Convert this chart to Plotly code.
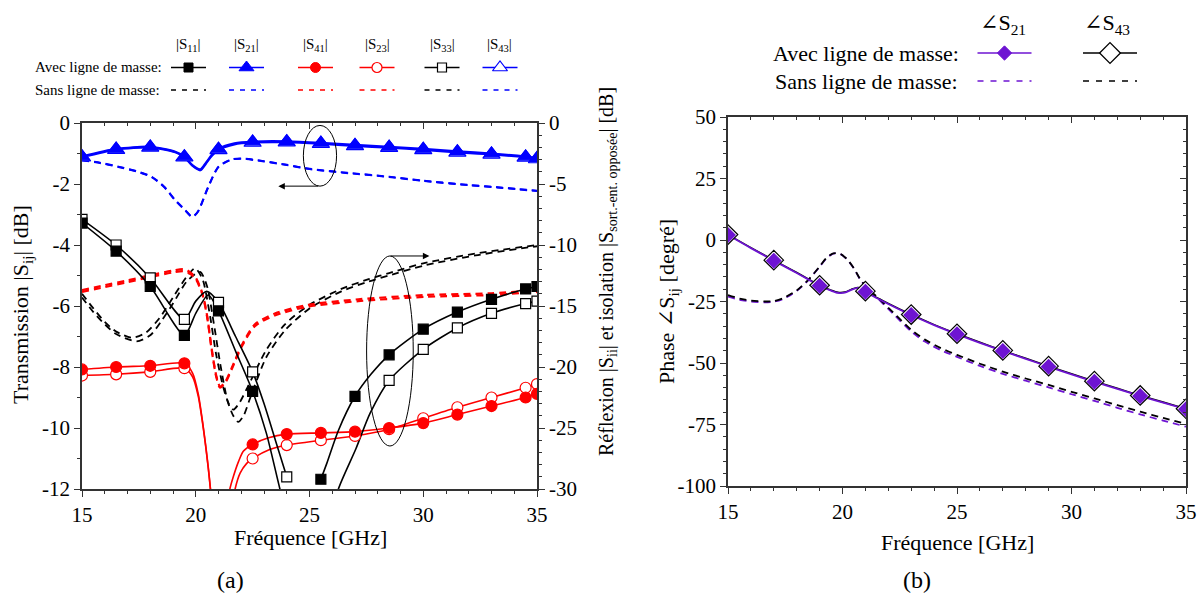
import plotly.graph_objects as go

W, H = 1201, 606
FONT = "Liberation Serif, Times New Roman, DejaVu Serif, serif"

def px(x):
    return x / W

def py(y):
    return 1 - y / H

# ---------------- DATA : panel (a) ----------------
# left axis (transmission, dB)
S21_AVEC_X = [15, 16.5, 18, 19.1, 19.5, 19.85, 20.2, 20.45, 20.7, 21, 21.7, 22.5, 24, 25.5, 27, 28.5, 30, 31.5, 33, 34.5, 35]
S21_AVEC_Y = [-1.1, -0.85, -0.78, -0.94, -1.1, -1.38, -1.52, -1.3, -1.05, -0.85, -0.67, -0.61, -0.6, -0.65, -0.72, -0.78, -0.85, -0.93, -1.0, -1.1, -1.15]
S43_AVEC_Y = [-1.12, -0.87, -0.8, -0.96, -1.12, -1.4, -1.55, -1.33, -1.08, -0.88, -0.7, -0.64, -0.63, -0.68, -0.75, -0.81, -0.88, -0.96, -1.03, -1.13, -1.18]
S21_SANS_X = [15, 16, 16.6, 17.4, 18.06, 18.6, 19.09, 19.53, 19.85, 20.1, 20.55, 21.0, 21.58, 22.0, 23, 24, 25, 26.5, 28.5, 30, 32, 33.5, 35]
S21_SANS_Y = [-1.21, -1.33, -1.43, -1.58, -1.76, -2.08, -2.52, -2.85, -3.08, -2.9, -2.09, -1.43, -1.19, -1.16, -1.25, -1.37, -1.5, -1.62, -1.76, -1.89, -2.03, -2.12, -2.22]
S43_SANS_Y = [-1.22, -1.34, -1.44, -1.59, -1.77, -2.09, -2.53, -2.86, -3.08, -2.9, -2.1, -1.44, -1.2, -1.17, -1.26, -1.38, -1.51, -1.63, -1.77, -1.9, -2.04, -2.13, -2.23]

# right axis (reflexion / isolation, dB)
S11_AVEC_X = [15, 16.5, 18, 19.5, 20.0, 20.55, 21, 21.75, 22.5, 23.1, 23.7, 24.2, None, 25.5, 25.76, 26.27, 27, 27.7, 28.5, 30, 31.5, 33, 34.5, 35]
S11_AVEC_Y = [-8.2, -10.5, -13.4, -17.4, -15.6, -14.1, -15.4, -18.7, -22.0, -25.4, -30.0, -33.5, None, -29.2, -27.9, -25.2, -22.4, -20.6, -19.0, -16.9, -15.5, -14.45, -13.6, -13.4]
S33_AVEC_X = [15, 16.5, 18, 19.5, 20.0, 20.48, 21, 21.75, 22.5, 23.0, 23.5, 24, None, 25.9, 26.27, 27.04, 27.66, 28.5, 30, 31.5, 33, 34.5, 35]
S33_AVEC_Y = [-7.9, -10.0, -12.7, -16.1, -14.6, -13.8, -14.7, -17.5, -20.4, -23.0, -26.0, -29.0, None, -33.0, -30.0, -26.7, -23.8, -21.1, -18.55, -16.8, -15.6, -14.8, -14.6]
S41_AVEC_X = [15, 16.5, 18, 19.5, 19.86, 20.11, 20.33, 20.55, 20.75, None, 21.35, 21.5, 21.65, 21.87, 22.09, 22.5, 23.2, 24, 25.5, 27, 28.5, 30, 31.5, 33, 34.5, 35]
S41_AVEC_Y = [-20.2, -20.0, -19.9, -19.7, -20.5, -22.2, -24.9, -28.2, -32.0, None, -32.0, -30.0, -29.0, -27.8, -26.9, -26.35, -25.8, -25.5, -25.4, -25.3, -25.0, -24.6, -23.9, -23.2, -22.5, -22.2]
S23_AVEC_X = [15, 16.5, 18, 19.5, 19.86, 20.11, 20.33, 20.55, 20.75, None, 21.55, 21.73, 21.95, 22.24, 22.5, 23.2, 24, 25.5, 27, 28.5, 30, 31.5, 33, 34.5, 35]
S23_AVEC_Y = [-20.7, -20.6, -20.4, -20.1, -20.8, -22.4, -25.0, -28.3, -32.0, None, -32.0, -30.0, -28.7, -27.9, -27.5, -26.8, -26.4, -26.0, -25.65, -25.1, -24.2, -23.3, -22.5, -21.7, -21.4]

S11_SANS_X = [15, 15.5, 16, 16.5, 17.2, 17.8, 18.4, 19.0, 19.6, 19.97, 20.3, 20.6, 20.9, 21.2, 21.45, 21.65, 21.9, 22.24, 23.1, 23.92, 25.0, 26.4, 27.6, 28.5, 30, 32.3, 35]
S11_SANS_Y = [-14.0, -15.2, -16.3, -17.1, -17.6, -17.2, -16.0, -14.3, -12.6, -11.9, -12.8, -15.5, -19.0, -21.6, -23.0, -23.5, -23.0, -21.8, -18.6, -16.5, -14.9, -13.6, -12.8, -12.3, -11.5, -10.7, -10.0]
S33_SANS_X = [15, 15.5, 16, 16.5, 17.4, 18.0, 18.5, 19.0, 19.6, 20.19, 20.5, 20.8, 21.1, 21.4, 21.65, 21.87, 22.1, 22.4, 23.1, 23.92, 25.0, 26.4, 27.6, 28.5, 30, 32.3, 35]
S33_SANS_Y = [-14.3, -15.5, -16.5, -17.3, -17.9, -17.4, -16.2, -14.8, -13.0, -12.2, -13.4, -16.5, -20.0, -22.8, -24.0, -24.5, -24.0, -22.5, -19.2, -17.0, -15.2, -13.8, -13.0, -12.5, -11.7, -10.85, -10.1]
S41_SANS_X = [15, 16, 17, 18.06, 19.0, 19.53, 19.97, 20.3, 20.5, 20.7, 20.9, 21.07, 21.3, 21.6, 22.0, 22.6, 23.5, 24.95, 27.15, 30.08, 33.0, 35]
S41_SANS_Y = [-13.7, -13.3, -12.9, -12.46, -12.1, -12.0, -12.6, -14.0, -15.8, -18.5, -20.7, -21.6, -21.2, -20.0, -18.3, -16.5, -15.6, -14.9, -14.45, -14.1, -13.96, -13.7]
S23_SANS_Y = [-13.85, -13.45, -13.05, -12.6, -12.25, -12.15, -12.7, -14.1, -15.9, -18.6, -20.8, -21.7, -21.3, -20.1, -18.4, -16.65, -15.75, -15.05, -14.6, -14.25, -14.1, -13.85]

# ---------------- DATA : panel (b) ----------------
PH_AVEC_X = [15, 16, 17, 18, 18.5, 19, 19.5, 19.8, 20.1, 20.4, 20.65, 20.85, 21, 22, 23, 24, 25, 26, 27, 28, 29, 30, 31, 32, 33, 34, 35]
PH_S21_AVEC = [2.0, -3.3, -8.4, -13.4, -16.0, -18.6, -20.6, -21.5, -21.4, -20.2, -19.5, -19.8, -21.0, -26.0, -30.5, -34.6, -38.3, -41.8, -45.1, -48.3, -51.5, -54.6, -57.6, -60.5, -63.4, -66.1, -68.8]
PH_S43_AVEC = [2.2, -3.1, -8.2, -13.2, -15.8, -18.4, -20.4, -21.3, -21.2, -20.0, -19.3, -19.6, -20.8, -25.8, -30.3, -34.4, -38.1, -41.6, -44.9, -48.1, -51.3, -54.4, -57.4, -60.3, -63.2, -65.9, -68.6]
PH_SANS_X = [15, 15.5, 16, 16.6, 17, 17.4, 18, 18.5, 19, 19.3, 19.6, 19.9, 20.2, 20.5, 20.8, 21.2, 21.5, 22.2, 23, 23.6, 24.3, 25, 26, 27, 28, 29, 30, 31, 32, 33, 34, 35]
PH_S43_SANS = [-22.4, -23.8, -24.6, -25.0, -24.8, -23.7, -20.5, -16.3, -10.8, -7.3, -5.4, -5.6, -7.8, -11.5, -16.3, -20.5, -23.0, -29.3, -36.5, -40.5, -44.0, -46.7, -50.3, -53.5, -56.3, -58.9, -61.7, -64.4, -67.1, -69.8, -72.3, -74.8]
PH_S21_SANS = [-23.0, -24.3, -25.0, -25.3, -25.1, -24.0, -20.7, -16.4, -10.9, -7.4, -5.5, -5.7, -7.9, -11.6, -16.5, -20.8, -23.4, -29.9, -37.2, -41.3, -44.8, -47.5, -51.2, -54.4, -57.2, -59.9, -62.7, -65.4, -68.2, -70.9, -73.4, -75.9]

# marker positions
MK_A = [15, 16.5, 18, 19.5, 21, 22.5, 24, 25.5, 27, 28.5, 30, 31.5, 33, 34.5, 35]
MK_S33 = [15, 16.5, 18, 19.5, 21, 22.5, 24, 28.5, 30, 31.5, 33, 34.5, 35]
MK_B = [15, 17, 19, 21, 23, 25, 27, 29, 31, 33, 35]

# ticks
XA_TICKS = [15, 20, 25, 30, 35]
YL_TICKS = [0, -2, -4, -6, -8, -10, -12]
YR_TICKS = [0, -5, -10, -15, -20, -25, -30]
YB_TICKS = [50, 25, 0, -25, -50, -75, -100]

BLUE = "#0000FF"
RED = "#FF0000"
BLACK = "#000000"
PURPLE = "#6E14D2"
DASH = "7px,5px"

fig = go.Figure()


def curve(x, y, color, width, dash, xa, ya):
    fig.add_trace(go.Scatter(x=x, y=y, mode="lines", xaxis=xa, yaxis=ya,
                             line=dict(color=color, width=width, dash=dash, shape="spline", smoothing=0.7),
                             connectgaps=False, hoverinfo="skip", showlegend=False))


def marks(x, y, mk, symbol, fill, edge, size, xa, ya, lw=1.2):
    sx = [a for a, b in zip(x, y) if a is not None and a in mk]
    sy = [b for a, b in zip(x, y) if a is not None and a in mk]
    fig.add_trace(go.Scatter(x=sx, y=sy, mode="markers", xaxis=xa, yaxis=ya,
                             marker=dict(symbol=symbol, size=size, color=fill, line=dict(color=edge, width=lw)),
                             hoverinfo="skip", showlegend=False))


# ---- panel (a) right axis curves (y2)
curve(S11_SANS_X, S11_SANS_Y, BLACK, 1.8, DASH, "x", "y2")
curve(S33_SANS_X, S33_SANS_Y, BLACK, 1.8, DASH, "x", "y2")
curve(S41_SANS_X, S41_SANS_Y, RED, 2.2, DASH, "x", "y2")
curve(S41_SANS_X, S23_SANS_Y, RED, 2.2, DASH, "x", "y2")
curve(S23_AVEC_X, S23_AVEC_Y, RED, 1.6, "solid", "x", "y2")
curve(S41_AVEC_X, S41_AVEC_Y, RED, 1.6, "solid", "x", "y2")
curve(S33_AVEC_X, S33_AVEC_Y, BLACK, 1.6, "solid", "x", "y2")
curve(S11_AVEC_X, S11_AVEC_Y, BLACK, 1.6, "solid", "x", "y2")
marks(S23_AVEC_X, S23_AVEC_Y, MK_A, "circle", "white", RED, 11, "x", "y2")
marks(S41_AVEC_X, S41_AVEC_Y, MK_A, "circle", RED, RED, 11, "x", "y2")
marks(S33_AVEC_X, S33_AVEC_Y, MK_S33, "square", "white", BLACK, 10, "x", "y2")
marks(S11_AVEC_X, S11_AVEC_Y, MK_A, "square", BLACK, BLACK, 10, "x", "y2")

# ---- panel (a) left axis curves (y)
curve(S21_SANS_X, S43_SANS_Y, BLUE, 2.0, DASH, "x", "y")
curve(S21_SANS_X, S21_SANS_Y, BLUE, 2.0, DASH, "x", "y")
curve(S21_AVEC_X, S43_AVEC_Y, BLUE, 2.2, "solid", "x", "y")
curve(S21_AVEC_X, S21_AVEC_Y, BLUE, 2.2, "solid", "x", "y")
marks(S21_AVEC_X, S43_AVEC_Y, MK_A, "triangle-up", "#9fb0ff", BLUE, 15, "x", "y")
marks(S21_AVEC_X, S21_AVEC_Y, MK_A, "triangle-up", BLUE, BLUE, 13, "x", "y")

# ---- panel (b)
curve(PH_SANS_X, PH_S21_SANS, PURPLE, 1.8, DASH, "x2", "y3")
curve(PH_SANS_X, PH_S43_SANS, BLACK, 1.8, DASH, "x2", "y3")
curve(PH_AVEC_X, PH_S43_AVEC, BLACK, 1.6, "solid", "x2", "y3")
curve(PH_AVEC_X, PH_S21_AVEC, PURPLE, 1.8, "solid", "x2", "y3")
marks(PH_AVEC_X, PH_S43_AVEC, MK_B, "diamond", "white", BLACK, 15, "x2", "y3")
marks(PH_AVEC_X, PH_S21_AVEC, MK_B, "diamond", PURPLE, PURPLE, 11, "x2", "y3")

# empty traces to materialise the mirror axes
for xa, ya in [("x3", "y"), ("x4", "y3"), ("x2", "y4")]:
    fig.add_trace(go.Scatter(x=[], y=[], xaxis=xa, yaxis=ya, showlegend=False, hoverinfo="skip"))

# ---- legend samples drawn on a hidden full-figure axis (pixel units)
LEG_A_COLS = [188.5, 246.5, 315.5, 377.0, 442.0, 500.0]
LEG_A_STYLE = [
    (BLACK, "square", BLACK, 9, 1.0),
    (BLUE, "triangle-up", BLUE, 13, 1.0),
    (RED, "circle", RED, 10, 1.0),
    (RED, "circle", "white", 10, 1.2),
    (BLACK, "square", "white", 9, 1.2),
    (BLUE, "triangle-up", "white", 13, 1.2),
]
LEG_A_ROWS = [67.5, 90.0]
LEG_HALF = 17.5
for c, (col, sym, fill, sz, lw) in zip(LEG_A_COLS, LEG_A_STYLE):
    fig.add_trace(go.Scatter(x=[c - LEG_HALF, c + LEG_HALF], y=[LEG_A_ROWS[0]] * 2, mode="lines",
                             xaxis="x5", yaxis="y5", line=dict(color=col, width=1.6),
                             hoverinfo="skip", showlegend=False))
    fig.add_trace(go.Scatter(x=[c], y=[LEG_A_ROWS[0]], mode="markers", xaxis="x5", yaxis="y5",
                             marker=dict(symbol=sym, size=sz, color=fill, line=dict(color=col, width=lw)),
                             hoverinfo="skip", showlegend=False))
    fig.add_trace(go.Scatter(x=[c - LEG_HALF, c + LEG_HALF], y=[LEG_A_ROWS[1]] * 2, mode="lines",
                             xaxis="x5", yaxis="y5", line=dict(color=col, width=1.6, dash="5px,6px"),
                             hoverinfo="skip", showlegend=False))

LEG_B_COLS = [1004.5, 1110.0]
LEG_B_STYLE = [(PURPLE, PURPLE, 11, 1.0), (BLACK, "white", 16, 1.3)]
LEG_B_ROWS = [53.0, 81.0]
LEG_B_HALF = 27.0
for c, (col, fill, sz, lw) in zip(LEG_B_COLS, LEG_B_STYLE):
    fig.add_trace(go.Scatter(x=[c - LEG_B_HALF, c + LEG_B_HALF], y=[LEG_B_ROWS[0]] * 2, mode="lines",
                             xaxis="x5", yaxis="y5", line=dict(color=col, width=1.6),
                             hoverinfo="skip", showlegend=False))
    fig.add_trace(go.Scatter(x=[c], y=[LEG_B_ROWS[0]], mode="markers", xaxis="x5", yaxis="y5",
                             marker=dict(symbol="diamond", size=sz, color=fill, line=dict(color=col, width=lw)),
                             hoverinfo="skip", showlegend=False))
    fig.add_trace(go.Scatter(x=[c - LEG_B_HALF, c + LEG_B_HALF], y=[LEG_B_ROWS[1]] * 2, mode="lines",
                             xaxis="x5", yaxis="y5", line=dict(color=col, width=1.6, dash="6px,7px"),
                             hoverinfo="skip", showlegend=False))

# ---------------- axes ----------------
AXC = "#333333"
TF = dict(family=FONT, size=21, color="black")


def base_axis(**kw):
    d = dict(showline=True, linecolor=AXC, linewidth=1.5, showgrid=False, zeroline=False,
             ticks="outside", ticklen=6, tickwidth=1.3, tickcolor=AXC, tickfont=TF, automargin=False)
    d.update(kw)
    return d


dom_xa = [px(82), px(537)]
dom_ya = [py(489), py(123)]
dom_xb = [px(728), px(1186)]
dom_yb = [py(486), py(117)]

fig.update_layout(
    width=W, height=H, autosize=False,
    margin=dict(l=0, r=0, t=0, b=0, pad=0, autoexpand=False),
    paper_bgcolor="white", plot_bgcolor="rgba(0,0,0,0)",
    showlegend=False,
    font=dict(family=FONT, color="black"),
    xaxis=base_axis(domain=dom_xa, range=[15, 35], anchor="y", tickmode="array", tickvals=XA_TICKS,
                    minor=dict(dtick=1, ticks="outside", ticklen=3, tickcolor=AXC)),
    yaxis=base_axis(domain=dom_ya, range=[-12, 0], anchor="x", tickmode="array", tickvals=YL_TICKS,
                    ticktext=[f"{v:g}" for v in YL_TICKS],
                    minor=dict(dtick=1, ticks="outside", ticklen=3, tickcolor=AXC)),
    yaxis2=base_axis(overlaying="y", side="right", range=[-30, 0], anchor="x", tickmode="array",
                     tickvals=YR_TICKS, ticktext=[f"{v:g}" for v in YR_TICKS],
                     minor=dict(dtick=1, ticks="outside", ticklen=3, tickcolor=AXC)),
    xaxis3=base_axis(overlaying="x", side="top", range=[15, 35], anchor="y", ticks="inside",
                     showticklabels=False, tickmode="array", tickvals=XA_TICKS,
                     minor=dict(dtick=1, ticks="inside", ticklen=3, tickcolor=AXC)),
    xaxis2=base_axis(domain=dom_xb, range=[15, 35], anchor="y3", tickmode="array", tickvals=XA_TICKS,
                     minor=dict(dtick=1, ticks="outside", ticklen=3, tickcolor=AXC)),
    yaxis3=base_axis(domain=dom_yb, range=[-100, 50], anchor="x2", tickmode="array", tickvals=YB_TICKS,
                     ticktext=[f"{v:g}" for v in YB_TICKS],
                     minor=dict(dtick=5, ticks="outside", ticklen=3, tickcolor=AXC)),
    xaxis4=base_axis(overlaying="x2", side="top", range=[15, 35], anchor="y3", ticks="inside",
                     showticklabels=False, tickmode="array", tickvals=XA_TICKS,
                     minor=dict(dtick=1, ticks="inside", ticklen=3, tickcolor=AXC)),
    yaxis4=base_axis(overlaying="y3", side="right", range=[-100, 50], anchor="x2", ticks="inside",
                     showticklabels=False, tickmode="array", tickvals=YB_TICKS,
                     minor=dict(dtick=5, ticks="inside", ticklen=3, tickcolor=AXC)),
    xaxis5=dict(domain=[0, 1], range=[0, W], anchor="y5", visible=False, fixedrange=True, automargin=False),
    yaxis5=dict(domain=[0, 1], range=[H, 0], anchor="x5", visible=False, fixedrange=True, automargin=False),
)

# ---------------- decorations (ellipses + arrows) ----------------
fig.add_shape(type="circle", xref="x", yref="y", x0=24.73, x1=26.19, y0=-2.07, y1=-0.08,
              line=dict(color="black", width=1))
fig.add_shape(type="circle", xref="x", yref="y", x0=27.51, x1=29.56, y0=-10.59, y1=-4.36,
              line=dict(color="black", width=1))
fig.add_annotation(x=23.63, y=-2.07, ax=25.45, ay=-2.07, xref="x", yref="y", axref="x", ayref="y",
                   text="", showarrow=True, arrowhead=2, arrowsize=1.3, arrowwidth=1, arrowcolor="black")
fig.add_annotation(x=30.27, y=-4.36, ax=28.5, ay=-4.36, xref="x", yref="y", axref="x", ayref="y",
                   text="", showarrow=True, arrowhead=2, arrowsize=1.3, arrowwidth=1, arrowcolor="black")

# ---------------- texts ----------------


def text(x, y, s, size, xanchor="center", angle=0):
    fig.add_annotation(x=px(x), y=py(y), xref="paper", yref="paper", text=s, showarrow=False,
                       xanchor=xanchor, yanchor="middle", textangle=angle,
                       font=dict(family=FONT, size=size, color="black"))


text(310, 537, "Fréquence [GHz]", 22)
text(957, 542, "Fréquence [GHz]", 22)
text(22, 305, "Transmission |S<sub>ij</sub>| [dB]", 22, angle=-90)
text(607, 272, "Réflexion |S<sub>ii</sub>| et isolation |S<sub>sort.-ent. opposée</sub>| [dB]", 20, angle=-90)
text(668, 302, "Phase ∠S<sub>ij</sub> [degré]", 22, angle=-90)
text(230, 580, "(a)", 24)
text(917, 580, "(b)", 24)

# legend (a)
LEG_A_HEAD = ["|S<sub>11</sub>|", "|S<sub>21</sub>|", "|S<sub>41</sub>|", "|S<sub>23</sub>|", "|S<sub>33</sub>|", "|S<sub>43</sub>|"]
for c, h in zip(LEG_A_COLS, LEG_A_HEAD):
    text(c, 45, h, 15)
text(164, LEG_A_ROWS[0], "Avec ligne de masse:", 15, xanchor="right")
text(162, LEG_A_ROWS[1], "Sans ligne de masse:", 15, xanchor="right")

# legend (b)
text(1003, 24, "∠S<sub>21</sub>", 22)
text(1107, 24, "∠S<sub>43</sub>", 22)
text(961, LEG_B_ROWS[0], "Avec ligne de masse:", 22, xanchor="right")
text(960, LEG_B_ROWS[1], "Sans ligne de masse:", 22, xanchor="right")

fig.write_html(
    "out.html",
    config={"displayModeBar": False},
    post_script="document.body.style.margin='0';document.body.style.padding='0';"
                "document.documentElement.style.overflow='hidden';",
)
